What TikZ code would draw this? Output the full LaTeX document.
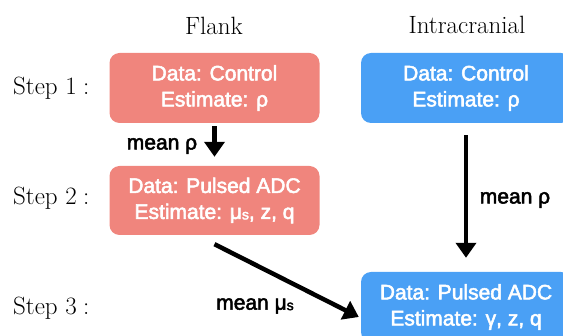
\documentclass[tikz,border=0pt]{standalone}
\usepackage{fontspec}
\setmainfont{Latin Modern Roman}
\newfontfamily\boxfont[FakeBold=2.5]{Liberation Sans}
\usetikzlibrary{arrows.meta,calc}
\definecolor{flankred}{RGB}{240,133,125}
\definecolor{intrablue}{RGB}{74,160,245}
\tikzset{
  stagebox/.style={rounded corners=10pt, minimum width=210pt, minimum height=70pt,
    inner sep=0pt, text=white, align=center,
    font=\boxfont\fontsize{21}{26}\selectfont},
  redbox/.style={stagebox, fill=flankred},
  bluebox/.style={stagebox, fill=intrablue},
  steplabel/.style={anchor=west, inner sep=0pt, font=\fontsize{25}{30}\selectfont},
  coltitle/.style={inner sep=0pt, font=\fontsize{25}{30}\selectfont},
  flowlabel/.style={inner sep=0pt, font=\boxfont\fontsize{21}{26}\selectfont},
  flow/.style={line width=4.5pt, -{Triangle[length=15pt,width=20pt]}}
}
\newcommand{\musub}{μ\raisebox{-0.5pt}{\fontsize{14}{16}\selectfont s}}
\begin{document}
\begin{tikzpicture}[x=1pt,y=-1pt]
\useasboundingbox (0,0) rectangle (563,336);
\clip (0,0) rectangle (563,336);
\node[coltitle] (tflank) at (214,26) {Flank};
\node[coltitle] (tintra) at (467,25) {Intracranial};
\node[steplabel] (s1) at (13,88) {Step 1\hspace{0.25em}:};
\node[steplabel] (s2) at (13,198) {Step 2\hspace{0.25em}:};
\node[steplabel] (s3) at (13,308) {Step 3\hspace{0.25em}:};
\node[redbox] (r1) at (214.5,88) {Data: Control\\Estimate: ρ};
\node[redbox, minimum height=69pt] (r2) at (214.5,200.5) {Data: Pulsed ADC\\Estimate: \musub, z, q};
\node[bluebox] (b1) at (466,88) {Data: Control\\Estimate: ρ};
\node[bluebox] (b3) at (466,307) {Data: Pulsed ADC\\Estimate: γ, z, q};
\draw[flow, shorten <=3pt, shorten >=9pt] (r1.south) -- (r2.north);
\draw[flow, shorten <=12pt, shorten >=14pt] (b1.south) -- (b3.north);
\draw[flow] ($(r2.south)+(0,9)$) -- ($(b3.west)+(-2,10)$);
\node[flowlabel] (l1) at (162,146) {mean ρ};
\node[flowlabel] (l2) at (515,200) {mean ρ};
\node[flowlabel] (l3) at (255,306) {mean \musub};
\end{tikzpicture}
\end{document}
